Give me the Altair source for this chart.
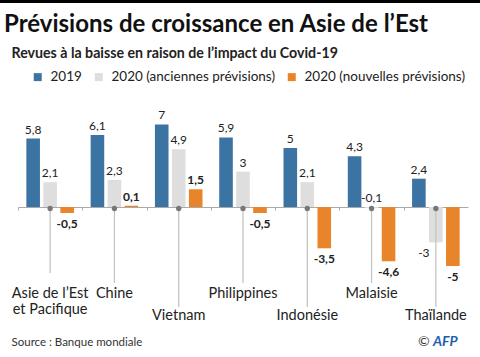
import altair as alt
import pandas as pd

FONT = "Lato"

titre = "Prévisions de croissance en Asie de l’Est"
sous_titre = "Revues à la baisse en raison de l’impact du Covid-19"
source = "Source : Banque mondiale"

pays = ["Asie de l’Est\net Pacifique", "Chine", "Vietnam", "Philippines",
        "Indonésie", "Malaisie", "Thaïlande"]
series = ["2019", "2020 (anciennes prévisions)", "2020 (nouvelles prévisions)"]
v2019 = [5.8, 6.1, 7, 5.9, 5, 4.3, 2.4]
v2020_anciennes = [2.1, 2.3, 4.9, 3, 2.1, -0.1, -3]
v2020_nouvelles = [-0.5, 0.1, 1.5, -0.5, -3.5, -4.6, -5]
couleurs = ["#3b74a2", "#dedede", "#e8852b"]

rows = []
for i, p in enumerate(pays):
    for s_idx, (s, vals) in enumerate(zip(series, [v2019, v2020_anciennes, v2020_nouvelles])):
        v = vals[i]
        rows.append({"pays": p, "idx": i, "serie": s, "sidx": s_idx, "valeur": v,
                     "label": f"{v:g}".replace(".", ",")})
df = pd.DataFrame(rows)
cdf = pd.DataFrame({"pays": pays, "idx": list(range(len(pays)))})

x_scale = alt.Scale(domain=pays, range=[18, 468], paddingInner=0.26, paddingOuter=0.13)
y_scale = alt.Scale(domain=[-8, 8], range=[301.4, 112.6], nice=False, zero=True)
xo_scale = alt.Scale(domain=series, paddingInner=0.2, paddingOuter=0)

X = alt.X("pays:N", scale=x_scale, title=None,
          axis=alt.Axis(labels=False, title=None, domainColor="#aaaaaa", domainWidth=1,
                        tickColor="#aaaaaa", tickSize=3, bandPosition=0, tickOffset=-8.36,
                        offset=-150, grid=False))
XO = alt.XOffset("serie:N", scale=xo_scale)
Y = lambda f: alt.Y(f, scale=y_scale, axis=None, title=None)

base = alt.Chart(df)

bars = base.mark_bar().encode(
    x=X, xOffset=XO, y=Y("valeur:Q"),
    color=alt.Color("serie:N", scale=alt.Scale(domain=series, range=couleurs),
                    legend=alt.Legend(title=None, orient="none", legendX=31, legendY=70,
                                      direction="horizontal", symbolType="square",
                                      symbolSize=64, symbolStrokeWidth=0,
                                      labelFont=FONT, labelFontSize=13.5, labelColor="#222222",
                                      labelLimit=400,
                                      columnPadding=10, labelOffset=6, padding=0)),
)

above_cond = "datum.valeur >= 0 || (datum.sidx != 2 && datum.valeur > -1)"

lab_above = base.transform_filter(f"({above_cond}) && datum.sidx != 2").transform_calculate(
    ly="max(datum.valeur, 0)").mark_text(
    font=FONT, fontSize=12, color="#222222", baseline="alphabetic", dy=-5).encode(
    x=X, xOffset=XO, y=Y("ly:Q"), text="label:N")

lab_above_b = base.transform_filter(f"({above_cond}) && datum.sidx == 2").transform_calculate(
    ly="max(datum.valeur, 0)").mark_text(
    font=FONT, fontSize=12, fontWeight="bold", color="#222222", baseline="alphabetic", dy=-5).encode(
    x=X, xOffset=XO, y=Y("ly:Q"), text="label:N")

lab_below_b = base.transform_filter(f"!({above_cond}) && datum.sidx == 2").mark_text(
    font=FONT, fontSize=12, fontWeight="bold", color="#222222", baseline="top", dy=6).encode(
    x=X, xOffset=XO, y=Y("valeur:Q"), text="label:N")

lab_below = base.transform_filter(f"!({above_cond}) && datum.sidx != 2").mark_text(
    font=FONT, fontSize=12, color="#222222", baseline="top", dy=6, dx=-12).encode(
    x=X, xOffset=XO, y=Y("valeur:Q"), text="label:N")

cbase = alt.Chart(cdf).transform_calculate(
    niveau="datum.idx == 0 ? 'haut' : (datum.idx % 2 == 1 ? 'milieu' : 'bas')")

niveaux = {"haut": (273, 294), "milieu": (283, 293.5), "bas": (307, 316)}
rules = []
names = []
for n, (fin, ty) in niveaux.items():
    rules.append(cbase.transform_filter(f"datum.niveau == '{n}'").mark_rule(
        color="#c4c4c4", strokeWidth=1.3).encode(x=X, y=alt.value(210), y2=alt.value(fin)))
    names.append(cbase.transform_filter(f"datum.niveau == '{n}'").mark_text(
        font=FONT, fontSize=14.5, color="#222222", baseline="middle", lineBreak="\n",
        lineHeight=16).encode(x=X, y=alt.value(ty), text="pays:N"))

dots = cbase.mark_point(filled=True, size=28, color="#777777", opacity=1).encode(
    x=X, y=alt.value(208.5))

deco = alt.Chart(pd.DataFrame({"a": [0]}))
top_bar = deco.mark_rule(color="#000000", strokeWidth=3).encode(
    x=alt.value(0), x2=alt.value(480), y=alt.value(1.5))
t_title = deco.mark_text(text=titre, font=FONT, fontSize=24, fontWeight="bold", color="#111111",
                         align="left", baseline="alphabetic").encode(x=alt.value(4), y=alt.value(31.5))
t_sub = deco.mark_text(text=sous_titre, font=FONT, fontSize=14.2, fontWeight="bold", color="#222222",
                       align="left", baseline="alphabetic").encode(x=alt.value(11.5), y=alt.value(58))
t_src = deco.mark_text(text=source, font=FONT, fontSize=11.5, color="#333333",
                       align="left", baseline="alphabetic").encode(x=alt.value(11.5), y=alt.value(346))
t_c = deco.mark_text(text="©", font=FONT, fontSize=14, color="#333333",
                     align="left", baseline="alphabetic").encode(x=alt.value(418), y=alt.value(346))
t_afp = deco.mark_text(text="AFP", font=FONT, fontSize=14, fontWeight="bold", fontStyle="italic",
                       color="#1d5fae", align="left", baseline="alphabetic").encode(
    x=alt.value(433), y=alt.value(346))

chart = alt.layer(
    bars, *rules, dots, lab_above, lab_above_b, lab_below_b, lab_below, *names,
    top_bar, t_title, t_sub, t_src, t_c, t_afp
).properties(
    width=480, height=357, autosize=alt.AutoSizeParams(type="none"), padding=0,
    background="#ffffff"
).configure_view(stroke=None)

chart.save("out.html", embed_options={"renderer": "svg", "actions": False})
